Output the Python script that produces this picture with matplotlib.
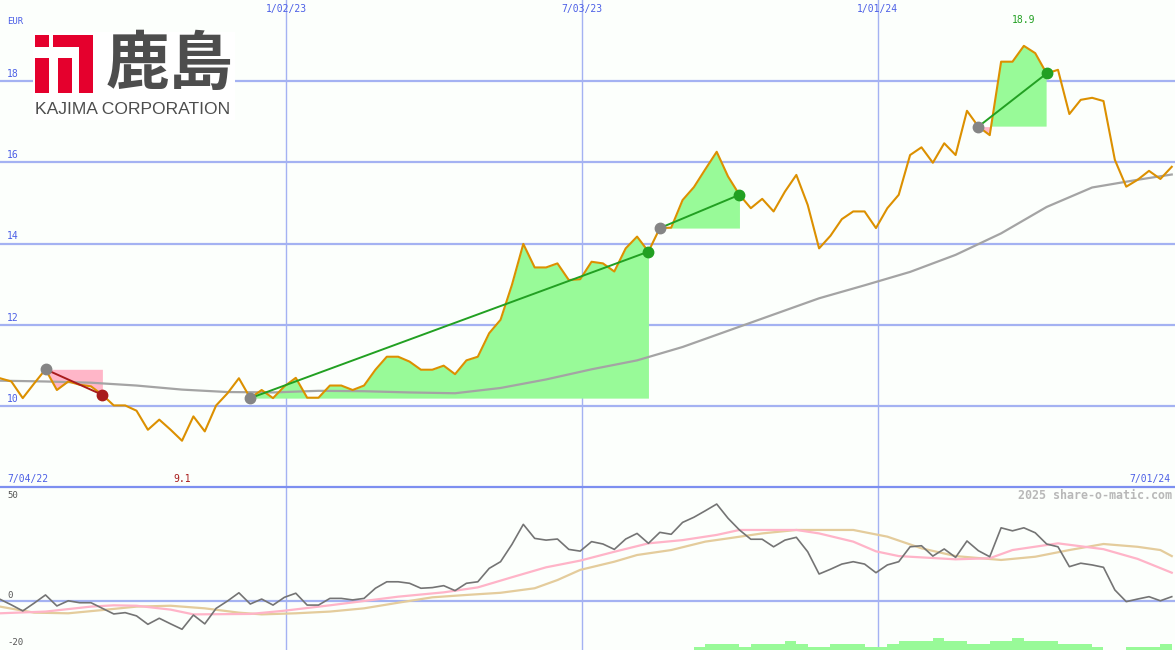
import numpy as np
import pandas as pd
import matplotlib
matplotlib.use('Agg')
import matplotlib.pyplot as plt
from matplotlib.patches import Rectangle
from matplotlib.lines import Line2D

# weekly closes (EUR), first week starts 2022-07-10
start = pd.Timestamp('2022-07-10')
price = [10.68, 10.60, 10.19, 10.55, 10.90, 10.39, 10.60, 10.52, 10.48, 10.27,
         10.01, 10.01, 9.88, 9.41, 9.66, 9.41, 9.14, 9.74, 9.37, 10.01,
         10.31, 10.68, 10.19, 10.39, 10.19, 10.48, 10.69, 10.20, 10.20, 10.50,
         10.50, 10.39, 10.50, 10.89, 11.21, 11.21, 11.09, 10.89, 10.89, 10.99,
         10.78, 11.12, 11.21, 11.79, 12.12, 12.98, 13.99, 13.41, 13.41, 13.51,
         13.10, 13.12, 13.55, 13.51, 13.31, 13.88, 14.17, 13.80, 14.38, 14.39,
         15.07, 15.39, 15.83, 16.26, 15.65, 15.20, 14.87, 15.10, 14.79, 15.28,
         15.69, 14.95, 13.88, 14.19, 14.60, 14.79, 14.79, 14.38, 14.87, 15.20,
         16.18, 16.37, 15.99, 16.47, 16.18, 17.27, 16.88, 16.67, 18.48, 18.48,
         18.87, 18.69, 18.19, 18.28, 17.19, 17.54, 17.59, 17.51, 16.06, 15.40,
         15.57, 15.79, 15.59, 15.89]

# long moving average, sampled every few weeks
ma_week = [0, 4, 8, 12, 16, 20, 24, 28, 32, 36, 40, 44, 48, 52, 56, 60, 64,
           68, 72, 76, 80, 84, 88, 92, 96, 100, 103]
ma_val = [10.62, 10.60, 10.57, 10.50, 10.40, 10.34, 10.33, 10.37, 10.36, 10.33,
          10.31, 10.44, 10.65, 10.90, 11.12, 11.45, 11.85, 12.25, 12.65, 12.97,
          13.30, 13.72, 14.25, 14.90, 15.38, 15.57, 15.70]

# trades: (entry week, exit week)
trades = [(4, 9), (22, 57), (58, 65), (86, 92)]

# lower panel indicator
mom = [0.8, -1.8, -4.6, -1.0, 2.8, -2.3, 0.1, -0.8, -0.8, -3.4,
       -6.0, -5.4, -6.9, -10.8, -8.0, -10.6, -13.1, -6.5, -10.6, -3.4,
       0.0, 3.8, -1.4, 0.9, -1.9, 1.7, 3.6, -1.9, -1.9, 1.2,
       1.2, 0.5, 1.2, 5.9, 8.9, 8.9, 8.2, 5.9, 6.2, 7.1,
       4.8, 8.2, 8.9, 15.1, 18.2, 26.2, 35.5, 29.0, 28.2, 28.7,
       23.9, 23.1, 27.5, 26.4, 23.9, 28.7, 31.3, 26.7, 31.8, 30.9,
       36.4, 38.8, 41.8, 44.9, 38.3, 32.9, 28.6, 28.6, 25.1, 28.2,
       29.5, 22.8, 12.5, 14.7, 17.1, 18.2, 17.1, 13.1, 16.7, 18.2,
       25.1, 25.6, 20.8, 24.1, 20.2, 27.8, 23.3, 20.5, 33.9, 32.5,
       33.9, 31.6, 26.4, 25.1, 15.9, 17.5, 16.7, 15.6, 5.1, -0.3,
       0.9, 2.0, 0.1, 2.0]

pink_week = [0, 4, 8, 10, 12, 15, 17, 22, 25, 29, 35, 39, 42, 45, 48, 51, 54,
             57, 60, 63, 65, 70, 72, 75, 77, 79, 84, 87, 89, 93, 97, 100, 103]
pink_val = [-5.7, -4.9, -2.6, -2.0, -2.2, -4.0, -6.2, -6.0, -4.5, -2.0, 2.0,
            4.0, 6.3, 11.0, 15.6, 18.7, 22.8, 26.7, 28.2, 30.6, 32.9, 32.9,
            31.3, 27.5, 23.0, 20.8, 19.3, 19.8, 23.6, 26.7, 24.0, 19.5, 13.1]

tan_week = [0, 3, 6, 9, 12, 15, 18, 21, 23, 26, 29, 32, 35, 38, 41, 44, 47,
            49, 51, 54, 56, 59, 62, 64, 67, 70, 75, 78, 81, 84, 88, 91, 94,
            97, 100, 102, 103]
tan_val = [-2.6, -5.4, -5.7, -4.2, -2.6, -2.2, -3.4, -5.4, -6.2, -5.7, -4.9,
           -3.4, -0.8, 1.7, 2.8, 3.8, 5.9, 9.7, 14.4, 18.2, 21.3, 23.6, 27.5,
           29.0, 31.3, 32.9, 32.9, 29.8, 24.4, 20.8, 19.0, 20.5, 23.6, 26.4,
           25.1, 23.6, 20.8]

bar_first = 61
bar_val = [1.4, 2.8, 2.8, 2.8, 1.4, 2.8, 2.8, 2.8, 4.2, 2.8, 1.4, 1.4, 2.8,
           2.8, 2.8, 1.4, 1.4, 2.8, 4.2, 4.2, 4.2, 5.7, 4.2, 4.2, 2.8, 2.8,
           4.2, 4.2, 5.7, 4.2, 4.2, 4.2, 2.8, 2.8, 2.8, 1.4, 0, 0, 1.4, 1.4,
           1.4, 2.8]

grid_dates = ['2023-01-02', '2023-07-03', '2024-01-01']
grid_labels = ['1/02/23', '7/03/23', '1/01/24']
price_ticks = [10, 12, 14, 16, 18]
low_label, high_label = '9.1', '18.9'

def wk(w):
    return start + pd.to_timedelta(np.asarray(w) * 7, unit='D')

dates = wk(np.arange(len(price)))
price = np.array(price)

bg = '#fcfffc'
grid_c = '#a4b2f2'
blue_txt = '#4c5fe6'
orange = '#dc9000'
green_fill = '#98fa98'
pink_fill = '#ffb6c8'
dkgreen = '#22a022'
dkred = '#a81c1c'
mono = 'DejaVu Sans Mono'

fig = plt.figure(figsize=(11.75, 6.5), dpi=100, facecolor=bg)
split = 163 / 650
ax = fig.add_axes([0, split, 1, 1 - split], facecolor=bg)
lo = fig.add_axes([0, 0, 1, split], facecolor=bg)
xmin, xmax = pd.Timestamp('2022-07-10'), pd.Timestamp('2024-07-02')

for a in (ax, lo):
    a.set_xlim(xmin, xmax)
    a.set_xticks([])
    a.set_yticks([])
    for s in a.spines.values():
        s.set_visible(False)
    for d in grid_dates:
        a.axvline(pd.Timestamp(d), color=grid_c, lw=1.0, zorder=1)

# ---- main panel
ax.set_ylim(8.0, 20.0)
for v in price_ticks:
    ax.axhline(v, color=grid_c, lw=1.6, zorder=1)
    ax.text(7 / 1175, v + 0.05, str(v), transform=ax.get_yaxis_transform(),
            color=blue_txt, fontsize=7, family=mono, va='bottom')
ax.text(7 / 1175, 1 - 22 / 487, 'EUR', transform=ax.transAxes, color=blue_txt,
        fontsize=6.5, family=mono, va='center')

tx = ax.get_xaxis_transform()
for d, lab in zip(grid_dates, grid_labels):
    ax.text(pd.Timestamp(d), 1 - 9 / 487, lab, transform=tx, color=blue_txt,
            fontsize=7, family=mono, ha='center', va='center')
ax.text(7 / 1175, 8 / 487, '7/04/22', transform=ax.transAxes, color=blue_txt,
        fontsize=7, family=mono, va='center')
ax.text(1170 / 1175, 8 / 487, '7/01/24', transform=ax.transAxes, color=blue_txt,
        fontsize=7, family=mono, va='center', ha='right')

imin, imax = int(np.argmin(price)), int(np.argmax(price))
ax.text(dates[imin], 8 / 487, low_label, transform=tx, color=dkred,
        fontsize=7, family=mono, ha='center', va='center')
ax.text(dates[imax], 1 - 20 / 487, high_label, transform=tx, color=dkgreen,
        fontsize=7, family=mono, ha='center', va='center')

for a_, b_ in trades:
    seg = slice(a_, b_ + 1)
    entry = price[a_]
    ax.fill_between(dates[seg], price[seg], entry, where=price[seg] >= entry,
                    interpolate=True, color=green_fill, lw=0, zorder=2)
    ax.fill_between(dates[seg], price[seg], entry, where=price[seg] <= entry,
                    interpolate=True, color=pink_fill, lw=0, zorder=2)

ax.plot(wk(ma_week), ma_val, color='#a4a4a4', lw=1.6, zorder=3)
ax.plot(dates, price, color=orange, lw=1.5, zorder=4)

for a_, b_ in trades:
    win = price[b_] > price[a_]
    c = dkgreen if win else dkred
    ax.plot([dates[a_], dates[b_]], [price[a_], price[b_]], color=c, lw=1.4, zorder=5)
    ax.plot(dates[a_], price[a_], 'o', color='#858585', ms=7.5, zorder=6)
    ax.plot(dates[b_], price[b_], 'o', color=c, ms=7.5, zorder=6)

# ---- lower panel
lo.set_ylim(-22.7, 52.8)
lo.axhline(0, color=grid_c, lw=1.6, zorder=1)
lo.bar(wk(np.arange(bar_first, bar_first + len(bar_val))), bar_val,
       width=7, align='edge', bottom=-22.7, color=green_fill, lw=0, zorder=2)
lo.plot(wk(tan_week), tan_val, color='#e4cc9c', lw=1.6, zorder=3)
lo.plot(wk(pink_week), pink_val, color='#ffb4c8', lw=1.6, zorder=3)
lo.plot(dates, mom, color='#747474', lw=1.2, zorder=4)
for yy, lab in [(0.945, '50'), (0.049, '-20')]:
    lo.text(7 / 1175, yy, lab, transform=lo.transAxes, color='#555555',
            fontsize=6.5, family=mono, va='center')
lo.text(7 / 1175, 0.6, '0', transform=lo.get_yaxis_transform(), color='#555555',
        fontsize=6.5, family=mono, va='bottom')
lo.text(1172 / 1175, 0.945, '2025 share-o-matic.com', transform=lo.transAxes,
        color='#b8b8b8', fontsize=8.4, family=mono, weight='bold',
        ha='right', va='center')

fig.add_artist(Line2D([0, 1], [split, split], color='#7d8ff0', lw=1.6))

# ---- logo
lg = fig.add_axes([0, 0, 1, 1], zorder=10)
lg.set_xlim(0, 1175)
lg.set_ylim(650, 0)
lg.axis('off')
lg.add_patch(Rectangle((33, 32), 202, 88, color='white', lw=0))
red = '#e5002d'
for (x0, y0, w, h) in [(35, 35, 14, 12), (35, 58, 14, 35), (58, 58, 14, 35),
                       (53, 35, 40, 12), (79, 35, 14, 58)]:
    lg.add_patch(Rectangle((x0, y0), w, h, color=red, lw=0))
lg.text(106, 65, '鹿島', fontsize=46, family='Noto Sans CJK JP', weight='bold',
        color='#4d4d4d', va='center', ha='left')
lg.text(35, 109, 'KAJIMA CORPORATION', fontsize=12.6, family='Liberation Sans',
        color='#4d4d4d', va='center', ha='left')

fig.savefig('out.png', dpi=100, facecolor=bg)
